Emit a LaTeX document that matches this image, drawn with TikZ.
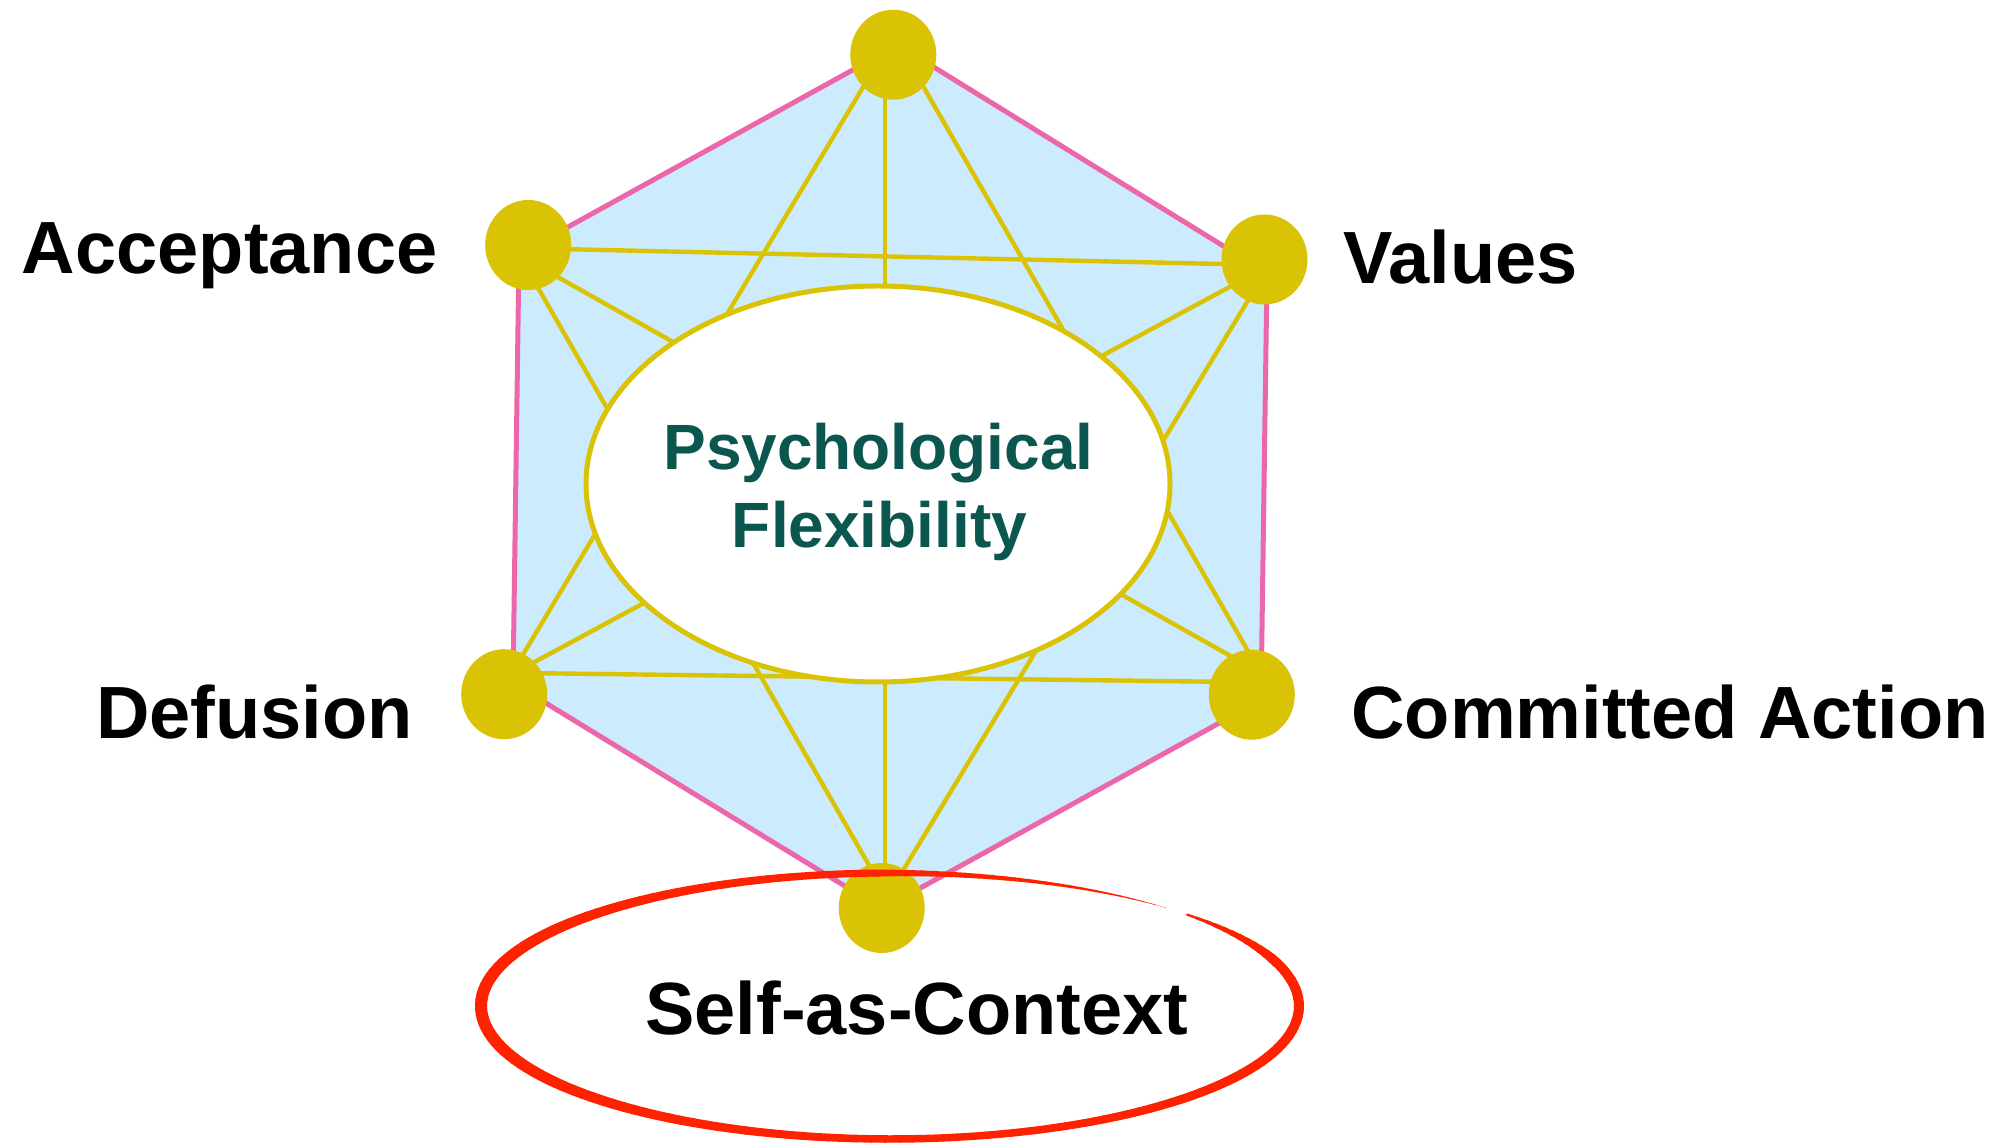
\documentclass[tikz,border=0pt]{standalone}
\usepackage{fontspec}
\setmainfont{Liberation Sans}
\usetikzlibrary{shapes.geometric}
\definecolor{hexfill}{HTML}{CCEBFC}
\definecolor{hexedge}{HTML}{EC67AA}
\definecolor{gold}{HTML}{DAC205}
\definecolor{ringred}{HTML}{FF2200}
\definecolor{deepgreen}{HTML}{0B574F}
\pgfdeclarelayer{backdrop}
\pgfdeclarelayer{lines}
\pgfsetlayers{backdrop,lines,main}

\begin{document}
\begin{tikzpicture}[x=1pt,y=1pt,
  hub/.style={ellipse, fill=gold, inner sep=0pt, minimum width=86pt, minimum height=90pt},
  spoke/.style={draw=gold, line width=4.4pt},
  rim/.style={draw=hexedge, line width=5pt, fill=hexfill, line join=round},
  namelabel/.style={font=\fontsize{74pt}{80pt}\selectfont\bfseries, anchor=base, inner sep=0pt},
  coretext/.style={font=\fontsize{64pt}{70pt}\selectfont\bfseries, text=deepgreen, anchor=base, inner sep=0pt}
]
\useasboundingbox (0,0) rectangle (2009,1144);

% the six processes
\node[hub] (T) at (893.3,1089.3) {};
\node[hub] (A) at (528.2,899) {};
\node[hub] (V) at (1264.5,884.5) {};
\node[hub] (D) at (504.2,449.8) {};
\node[hub] (C) at (1251.8,449.3) {};
\node[hub] (S) at (881.7,236) {};

% page background and hexagon outline
\coordinate (hT) at (898,1099);
\coordinate (hV) at (1267,871);
\coordinate (hC) at (1261,444);
\coordinate (hS) at (882.4,235);
\coordinate (hD) at (513,461);
\coordinate (hA) at (519,890);
\begin{pgfonlayer}{backdrop}
  \fill[white] (0,0) rectangle (2009,1144);
  \draw[rim] (hT) -- (hV) -- (hC) -- (hS) -- (hD) -- (hA) -- cycle;
\end{pgfonlayer}

% links between the processes
\begin{pgfonlayer}{lines}
  \draw[spoke] ([shift={(-8.3,0)}]T.center) -- ([shift={(3.3,0)}]S.center);
  \draw[spoke] ([shift={(-10.8,0)}]T.center) -- ([shift={(-5,0)}]D.center);
  \draw[spoke] ([shift={(11.6,0)}]T.center) -- ([shift={(8.2,22.7)}]C.center);
  \draw[spoke] ([shift={(0,-3.3)}]A.center) -- ([shift={(0,-5.5)}]V.center);
  \draw[spoke] ([shift={(0,-15.4)}]A.center) -- ([shift={(0,26.7)}]C.center);
  \draw[spoke] ([shift={(-14.7,0)}]A.center) -- ([shift={(11.8,0)}]S.center);
  \draw[spoke] ([shift={(0,-8.6)}]V.center) -- ([shift={(0,15.8)}]D.center);
  \draw[spoke] ([shift={(8.3,0)}]V.center) -- ([shift={(-1.4,0)}]S.center);
  \draw[spoke] ([shift={(0,21.4)}]D.center) -- ([shift={(0,12.5)}]C.center);
\end{pgfonlayer}

% centre
\node[ellipse, draw=gold, fill=white, line width=5pt, inner sep=0pt,
      minimum width=584pt, minimum height=396pt] (pf) at (878,660) {};
\node[coretext] (pfa) at (878.5,674) {Psychological};
\node[coretext] (pfb) at (879.5,596.7) {Flexibility};

% hand-drawn ring around Self-as-Context
\coordinate (rc) at (890,138);
\foreach \i in {0,...,177}{
  \pgfmathsetmacro{\tA}{43.4-2*\i}
  \pgfmathsetmacro{\tB}{\tA-2}
  \pgfmathsetmacro{\tM}{\tA-1}
  \pgfmathsetmacro{\pU}{2*\i+1}
  \pgfmathsetmacro{\rW}{(9.125+1.875*cos(2*\tM)-cos(\tM)-0.25*sin(\tM))*min(1,0.25+\pU/30)*min(1,(356-\pU)/45)}
  \draw[ringred, line width=\rW pt, line cap=round]
    ([shift={(\tA:409pt and 133pt)}]rc) arc[start angle=\tA, end angle=\tB, x radius=409pt, y radius=133pt];
}

% labels
\node[namelabel] (la) at (229.7,870.4) {Acceptance};
\node[namelabel] (lv) at (1460.3,860.2) {Values};
\node[namelabel] (ld) at (254.5,406) {Defusion};
\node[namelabel] (lc) at (1670,406) {Committed Action};
\node[namelabel] (ls) at (916.8,110) {Self-as-Context};
\end{tikzpicture}
\end{document}
